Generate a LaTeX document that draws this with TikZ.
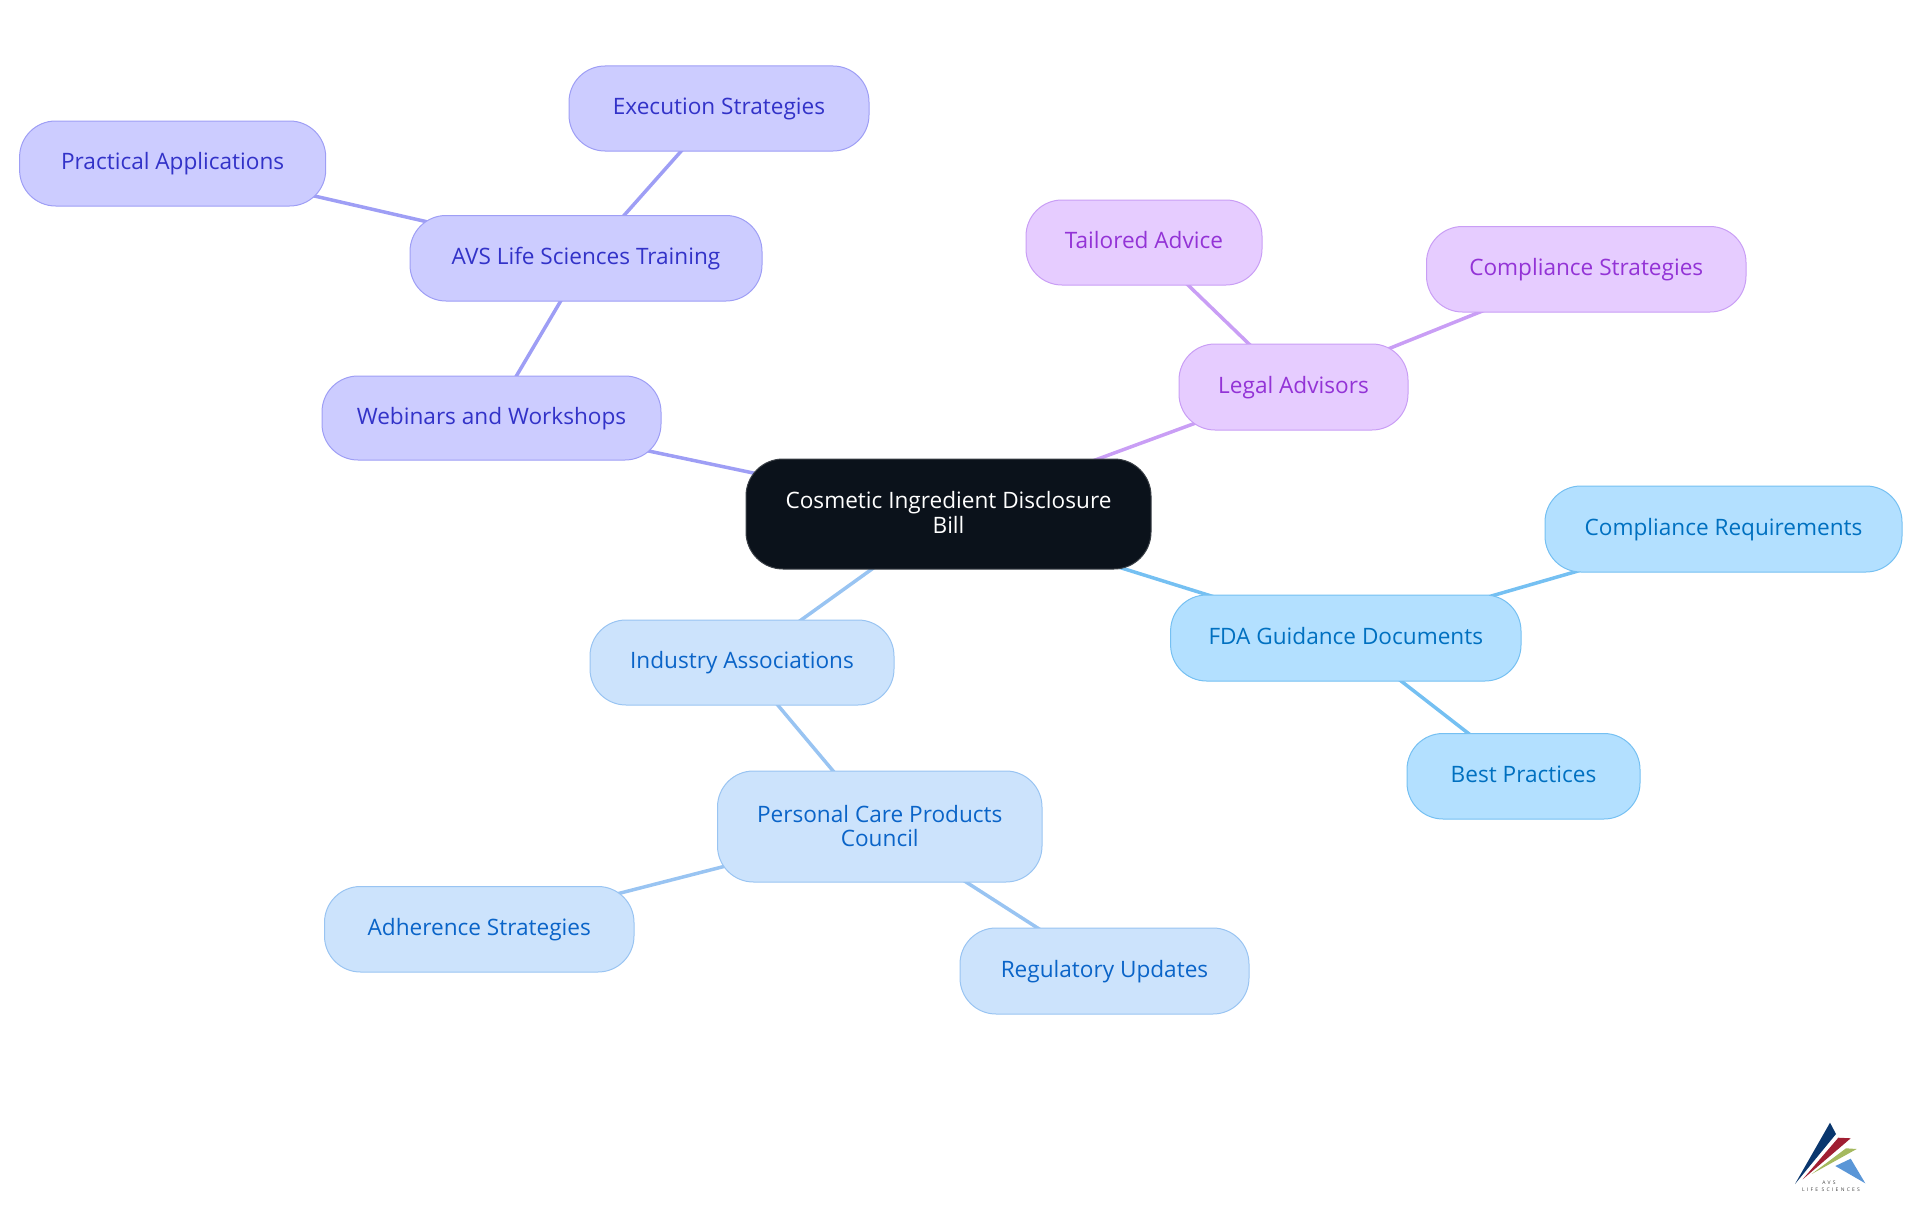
\documentclass[tikz,border=0pt]{standalone}
\usepackage{fontspec}
\setmainfont{Open Sans}
\usetikzlibrary{backgrounds}
\definecolor{rootfill}{HTML}{0B121B}
\definecolor{rootline}{HTML}{3A3F46}
\definecolor{vfill}{HTML}{CCCCFF}
\definecolor{vline}{HTML}{9E9EF5}
\definecolor{vtext}{HTML}{3232C8}
\definecolor{pfill}{HTML}{E6CCFF}
\definecolor{pline}{HTML}{C99EF5}
\definecolor{ptext}{HTML}{9333D6}
\definecolor{sfill}{HTML}{B3E0FF}
\definecolor{sline}{HTML}{75C0F2}
\definecolor{stext}{HTML}{0070C0}
\definecolor{bfill}{HTML}{CCE3FC}
\definecolor{bline}{HTML}{99C4F2}
\definecolor{btext}{HTML}{0A64C8}
\tikzset{
  mapnode/.style={rounded corners=36pt, line width=1pt, align=center, inner sep=0pt,
    font=\fontsize{22.6}{24.5}\selectfont},
  oneline/.style={text height=18pt, text depth=5.7pt},
  rootnode/.style={mapnode, rounded corners=37pt, fill=rootfill, draw=rootline, text=white, text depth=3.6pt},
  vnode/.style={mapnode, oneline, fill=vfill, draw=vline, text=vtext},
  pnode/.style={mapnode, oneline, fill=pfill, draw=pline, text=ptext},
  snode/.style={mapnode, oneline, fill=sfill, draw=sline, text=stext},
  bnode/.style={mapnode, oneline, fill=bfill, draw=bline, text=btext},
  bnodetwo/.style={mapnode, fill=bfill, draw=bline, text=btext, text depth=1.2pt},
  vedge/.style={draw=vline, line width=3.5pt},
  pedge/.style={draw=pline, line width=3.5pt},
  sedge/.style={draw=sline, line width=3.5pt},
  bedge/.style={draw=bline, line width=3.5pt},
  logotext/.style={inner sep=0pt, text=black!75},
}
\newcommand{\mapbox}[7]{% style,name,x0,y0,x1,y1,text
  \node[#1, minimum width=#5pt-#3pt, minimum height=#6pt-#4pt] (#2) at ({(#3+#5)/2},{(#4+#6)/2}) {#7};}
\begin{document}
\begin{tikzpicture}[x=1pt,y=-1pt]
\useasboundingbox (0,0) rectangle (1920,1215);
\mapbox{rootnode}{root}{746}{459}{1151}{569}{Cosmetic Ingredient Disclosure\\Bill}
\mapbox{vnode}{practical}{19.6}{121}{325.7}{206}{Practical Applications}
\mapbox{vnode}{execution}{569}{66}{869}{151}{Execution Strategies}
\mapbox{vnode}{avs}{410}{215.5}{762}{301}{AVS Life Sciences Training}
\mapbox{vnode}{webinars}{322}{376}{661}{460}{Webinars and Workshops}
\mapbox{pnode}{tailored}{1026}{200}{1262}{285}{Tailored Advice}
\mapbox{pnode}{cstrat}{1426.5}{226.5}{1746}{312}{Compliance Strategies}
\mapbox{pnode}{legal}{1179}{344}{1408}{430}{Legal Advisors}
\mapbox{snode}{creq}{1545}{486}{1902}{572}{Compliance Requirements}
\mapbox{snode}{fda}{1170.6}{595}{1521}{681}{FDA Guidance Documents}
\mapbox{snode}{best}{1407}{733.5}{1640}{819}{Best Practices}
\mapbox{bnode}{industry}{590}{620}{894}{705}{Industry Associations}
\mapbox{bnodetwo}{pcpc}{717.5}{771}{1042}{882}{Personal Care Products\\Council}
\mapbox{bnode}{adherence}{324.5}{886.5}{634}{972}{Adherence Strategies}
\mapbox{bnode}{regulatory}{960}{928}{1249}{1014}{Regulatory Updates}
\begin{scope}[on background layer]
\draw[vedge] (root.center) -- (webinars.center);
\draw[vedge] (webinars.center) -- (avs.center);
\draw[vedge] (avs.center) -- (execution.center);
\draw[vedge] (avs.center) -- (practical.center);
\draw[pedge] (root.center) -- (legal.center);
\draw[pedge] (legal.center) -- (tailored.center);
\draw[pedge] (legal.center) -- (cstrat.center);
\draw[sedge] (root.center) -- (fda.center);
\draw[sedge] (fda.center) -- (creq.center);
\draw[sedge] (fda.center) -- (best.center);
\draw[bedge] (root.center) -- (industry.center);
\draw[bedge] (industry.center) -- (pcpc.center);
\draw[bedge] (pcpc.center) -- (adherence.center);
\draw[bedge] (pcpc.center) -- (regulatory.center);
\end{scope}
% logo
\fill[fill={rgb,255:red,10;green,55;blue,110}] (1830,1122.7) -- (1836,1134) -- (1795,1184) -- cycle;
\fill[fill={rgb,255:red,160;green,30;blue,50}] (1838.3,1137.7) -- (1850.7,1138.3) -- (1802.7,1179.3) -- cycle;
\fill[fill={rgb,255:red,165;green,185;blue,95}] (1846,1148.3) -- (1856.7,1149) -- (1811.7,1174) -- cycle;
\fill[fill={rgb,255:red,90;green,150;blue,215}] (1850.7,1158.7) -- (1835.3,1166) -- (1865.3,1183.3) -- cycle;
\node[logotext, font=\fontsize{5}{5}\selectfont\addfontfeatures{LetterSpace=45}] (logoa) at (1829,1182.6) {AVS};
\node[logotext, font=\fontsize{5}{5}\selectfont\addfontfeatures{LetterSpace=45}] (logob) at (1831,1189.3) {LIFE SCIENCES};
\end{tikzpicture}
\end{document}
